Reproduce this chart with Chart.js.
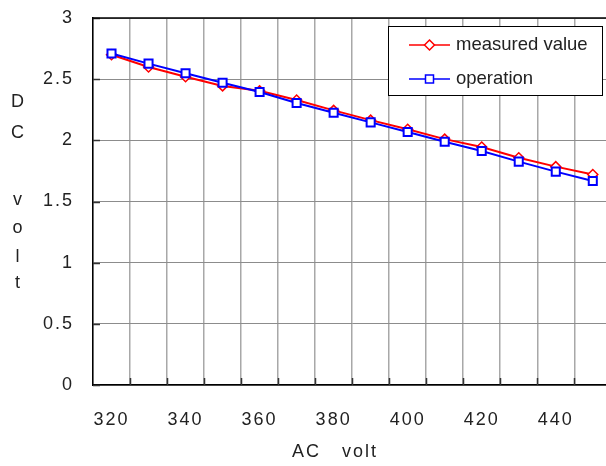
<!DOCTYPE html>
<html>
<head>
<meta charset="utf-8">
<script src="https://cdn.jsdelivr.net/npm/chart.js"></script>
<style>
html,body{margin:0;padding:0;overflow:hidden;background:#fff;}
#wrap{width:619px;height:466px;position:relative;}
</style>
</head>
<body>
<div id="wrap"><canvas id="c"></canvas></div>
<script>
const categories = ['320','330','340','350','360','370','380','390','400','410','420','430','440','450'];
const measuredValue = [2.70, 2.60, 2.52, 2.445, 2.405, 2.33, 2.245, 2.165, 2.09, 2.01, 1.945, 1.858, 1.785, 1.72];
const operationValue = [2.71, 2.627, 2.548, 2.471, 2.395, 2.305, 2.226, 2.147, 2.068, 1.989, 1.913, 1.826, 1.744, 1.668];
const seriesNames = ['measured value', 'operation'];
const xTitle = 'AC   volt';
const yTitleLetters = ['D','C','v','o','l','t'];

const FONT = "'Liberation Sans', Arial, sans-serif";
const TXT = '#222';

const decor = {
  id: 'decor',
  beforeDraw(chart) { chart.ctx.letterSpacing = '2px'; },
  afterDraw(chart) {
    const ctx = chart.ctx, ca = chart.chartArea;
    const ys = chart.scales.y;
    ctx.save();
    ctx.letterSpacing = '0px';
    // inward tick marks
    ctx.strokeStyle = '#333'; ctx.lineWidth = 1.5;
    const n = categories.length;
    const step = (ca.right - ca.left) / n;
    ctx.beginPath();
    for (let k = 1; k < n; k++) {
      const px = Math.round(ca.left + k * step) + 0.5;
      ctx.moveTo(px, ca.bottom); ctx.lineTo(px, ca.bottom - 7);
    }
    ys.ticks.forEach(t => {
      const py = Math.round(ys.getPixelForValue(t.value)) + 0.5;
      ctx.moveTo(ca.left, py); ctx.lineTo(ca.left + 7, py);
    });
    ctx.stroke();
    // top border
    ctx.strokeStyle = '#000'; ctx.lineWidth = 1.5;
    ctx.beginPath(); ctx.moveTo(ca.left, ca.top); ctx.lineTo(ca.right, ca.top); ctx.stroke();

    // axis titles
    ctx.fillStyle = TXT;
    ctx.font = '18px ' + FONT;
    ctx.textAlign = 'center'; ctx.textBaseline = 'alphabetic';
    const baselines = [107, 138, 205, 233, 262, 288];
    yTitleLetters.forEach((ch, i) => ctx.fillText(ch, 17.5, baselines[i]));
    ctx.textBaseline = 'middle';
    ctx.letterSpacing = '2px';
    ctx.fillText(xTitle, 335, 452);
    ctx.letterSpacing = '0px';

    // legend
    const lx = 388.5, ly = 26.5, lw = 214, lh = 69;
    ctx.fillStyle = '#fff';
    ctx.fillRect(lx, ly, lw, lh);
    ctx.strokeStyle = '#000'; ctx.lineWidth = 1;
    ctx.strokeRect(lx, ly, lw, lh);
    const rows = [45, 79];
    chart.data.datasets.forEach((ds, i) => {
      const y = rows[i];
      ctx.strokeStyle = ds.borderColor; ctx.lineWidth = 1.5;
      ctx.beginPath(); ctx.moveTo(409, y); ctx.lineTo(450, y); ctx.stroke();
      ctx.fillStyle = '#fff';
      ctx.beginPath();
      if (ds.pointStyle === 'rectRot') {
        const r = 5;
        ctx.moveTo(429.5, y - r); ctx.lineTo(429.5 + r, y); ctx.lineTo(429.5, y + r); ctx.lineTo(429.5 - r, y); ctx.closePath();
      } else {
        ctx.rect(425.5, y - 4, 8, 8);
      }
      ctx.fill(); ctx.stroke();
      ctx.fillStyle = TXT;
      ctx.textAlign = 'left'; ctx.textBaseline = 'middle';
      ctx.font = '18.5px ' + FONT;
      ctx.fillText(ds.label, 456, y);
    });
    ctx.restore();
  }
};

new Chart(document.getElementById('c'), {
  type: 'line',
  data: {
    labels: categories,
    datasets: [
      {
        label: seriesNames[0], data: measuredValue, order: 1,
        borderColor: '#ff0000', backgroundColor: '#ffffff', borderWidth: 2,
        pointStyle: 'rectRot', pointRadius: 5, pointBorderWidth: 1.5,
        pointBackgroundColor: '#ffffff', pointBorderColor: '#ff0000', tension: 0
      },
      {
        label: seriesNames[1], data: operationValue, order: 0,
        borderColor: '#0000ff', backgroundColor: '#ffffff', borderWidth: 2,
        pointStyle: 'rect', pointRadius: 5.7, pointBorderWidth: 2,
        pointBackgroundColor: '#ffffff', pointBorderColor: '#0000ff', tension: 0
      }
    ]
  },
  options: {
    responsive: true, maintainAspectRatio: false, animation: false,
    layout: { padding: { top: 18, right: 1, left: 0, bottom: 0 } },
    plugins: { legend: { display: false }, tooltip: { enabled: false } },
    scales: {
      x: {
        type: 'category', offset: true,
        grid: { offset: true, color: '#a8a8a8', lineWidth: 1.5, drawTicks: false },
        border: { color: '#000', width: 1.5 },
        ticks: {
          autoSkip: false, maxRotation: 0, padding: 24, color: TXT,
          font: { family: FONT, size: 18 },
          callback: function(v, i) { return i % 2 === 0 ? this.getLabelForValue(v) : ''; }
        },
        afterFit(s) { s.height = 81; }
      },
      y: {
        min: 0, max: 3,
        grid: { color: '#8c8c8c', lineWidth: 1, drawTicks: false },
        border: { color: '#000', width: 1.5 },
        ticks: { stepSize: 0.5, padding: 19, color: TXT, font: { family: FONT, size: 18 },
          callback: v => String(v) },
        afterFit(s) { s.width = 93; s.paddingTop = 0; s.paddingBottom = 0; }
      }
    }
  },
  plugins: [decor]
});
</script>
</body>
</html>
